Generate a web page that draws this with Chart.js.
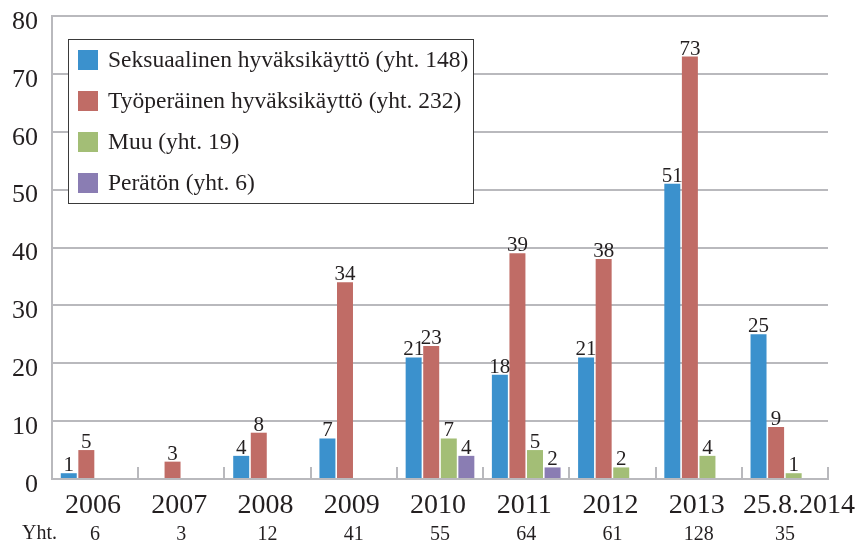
<!DOCTYPE html>
<html>
<head>
<meta charset="utf-8">
<script src="https://cdn.jsdelivr.net/npm/chart.js@4/dist/chart.umd.min.js"></script>
<style>
  html, body { margin: 0; padding: 0; background: #fff; }
  #wrap { position: relative; width: 862px; height: 545px; }
</style>
</head>
<body>
<div id="wrap"><canvas id="c" width="862" height="545"></canvas></div>
<script>
/* Kanteluiden määrä vuosittain — ryhmitelty pylväskaavio */
var YEARS = ['2006', '2007', '2008', '2009', '2010', '2011', '2012', '2013', '25.8.2014'];
var TOTALS = ['6', '3', '12', '41', '55', '64', '61', '128', '35'];
var SERIES_NAMES = [
  'Seksuaalinen hyväksikäyttö (yht. 148)',
  'Työperäinen hyväksikäyttö (yht. 232)',
  'Muu (yht. 19)',
  'Perätön (yht. 6)'
];
var SEKSUAALINEN = [1, 0, 4, 7, 21, 18, 21, 51, 25];
var TYOPERAINEN = [5, 3, 8, 34, 23, 39, 38, 73, 9];
var MUU = [0, 0, 0, 0, 7, 5, 2, 4, 1];
var PERATON = [0, 0, 0, 0, 4, 2, 0, 0, 0];
var Y_TICKS = [0, 10, 20, 30, 40, 50, 60, 70, 80];

var COLORS = ['#3b91cd', '#c06c66', '#a3be76', '#8a7db3'];
var SERIF = '"Liberation Serif", "DejaVu Serif", serif';
var TEXT = '#231f20';
var GRID = '#b9b9bd';

// arvot pylväiden yläpuolelle (nollia ei näytetä)
var valueLabels = {
  id: 'valueLabels',
  afterDatasetsDraw: function (chart) {
    var ctx = chart.ctx;
    ctx.save();
    ctx.font = '21px ' + SERIF;
    ctx.fillStyle = TEXT;
    ctx.textAlign = 'center';
    ctx.textBaseline = 'alphabetic';
    chart.data.datasets.forEach(function (ds, i) {
      chart.getDatasetMeta(i).data.forEach(function (bar, j) {
        var v = ds.data[j];
        if (!v) return;
        ctx.fillText(String(v), bar.x, bar.y - 2);
      });
    });
    ctx.restore();
  }
};

// sisäänpäin osoittavat jakoviivat, vuosiotsikot ja "Yht."-rivin otsikko
var axisExtras = {
  id: 'axisExtras',
  afterDraw: function (chart) {
    var ctx = chart.ctx, a = chart.chartArea, x = chart.scales.x, x2 = chart.scales.x2;
    var step = (a.right - a.left) / YEARS.length;
    ctx.save();
    ctx.strokeStyle = GRID;
    ctx.lineWidth = 2;
    for (var k = 1; k <= YEARS.length; k++) {
      var px = Math.round(a.left + step * k);
      ctx.beginPath();
      ctx.moveTo(px, a.bottom);
      ctx.lineTo(px, a.bottom - 12);
      ctx.stroke();
    }
    ctx.fillStyle = TEXT;
    ctx.textBaseline = 'middle';
    ctx.textAlign = 'center';
    ctx.font = '28px ' + SERIF;
    YEARS.forEach(function (lbl, j) {
      // viimeinen (pitkä) otsikko on alkuperäisessä hieman oikealla
      var nudge = j === YEARS.length - 1 ? 14 : -2;
      ctx.fillText(lbl, x.getPixelForValue(j) + nudge, x.top + 27);
    });
    ctx.font = '20px ' + SERIF;
    ctx.textAlign = 'left';
    ctx.fillText('Yht.', 22, (x2.top + x2.bottom) / 2);
    ctx.restore();
  }
};

// selite kaavioalueen sisällä
var boxLegend = {
  id: 'boxLegend',
  afterDraw: function (chart) {
    var ctx = chart.ctx, a = chart.chartArea;
    var left = a.left + 16, top = a.top + 23, w = 405, h = 164;
    ctx.save();
    ctx.fillStyle = '#fff';
    ctx.fillRect(left, top, w, h);
    ctx.strokeStyle = '#3a3a3a';
    ctx.lineWidth = 1;
    ctx.strokeRect(left + 0.5, top + 0.5, w, h);
    ctx.font = '23.5px ' + SERIF;
    ctx.textBaseline = 'middle';
    ctx.textAlign = 'left';
    chart.data.datasets.forEach(function (ds, i) {
      var cy = top + 21 + i * 41;
      ctx.fillStyle = ds.backgroundColor;
      ctx.fillRect(left + 10, cy - 10, 20, 20);
      ctx.fillStyle = TEXT;
      ctx.fillText(ds.label, left + 40, cy + 1);
    });
    ctx.restore();
  }
};

var seriesData = [SEKSUAALINEN, TYOPERAINEN, MUU, PERATON];
var datasets = seriesData.map(function (d, i) {
  return {
    label: SERIES_NAMES[i],
    data: d,
    backgroundColor: COLORS[i],
    borderWidth: 0,
    categoryPercentage: 0.815,
    barPercentage: 0.91
  };
});

new Chart(document.getElementById('c').getContext('2d'), {
  type: 'bar',
  data: { labels: YEARS, datasets: datasets },
  plugins: [valueLabels, axisExtras, boxLegend],
  options: {
    responsive: false,
    animation: false,
    layout: { autoPadding: false, padding: { left: 12, right: 34, top: 16, bottom: 0 } },
    plugins: { legend: { display: false }, tooltip: { enabled: false } },
    scales: {
      x: {
        position: 'bottom',
        grid: { display: false, drawTicks: false },
        border: { color: GRID, width: 2 },
        ticks: { display: false },
        afterFit: function (s) { s.height = 44; }
      },
      x2: {
        type: 'category',
        position: 'bottom',
        labels: TOTALS,
        offset: true,
        grid: { display: false, drawTicks: false },
        border: { display: false },
        ticks: { color: TEXT, font: { family: SERIF, size: 20 }, padding: 0, maxRotation: 0, autoSkip: false },
        afterFit: function (s) { s.height = 22; }
      },
      y: {
        min: 0,
        max: 80,
        afterBuildTicks: function (scale) {
          scale.ticks = Y_TICKS.map(function (v) { return { value: v }; });
        },
        grid: { color: GRID, lineWidth: 2, drawTicks: false },
        border: { color: GRID, width: 2 },
        // pieni lineHeight: tikkien padding ei siirrä kaavioaluetta alas
        ticks: { color: TEXT, font: { family: SERIF, size: 26, lineHeight: 0.15 }, padding: 14, labelOffset: 6 },
        afterFit: function (s) { s.width = 40; }
      }
    }
  }
});
</script>
</body>
</html>
